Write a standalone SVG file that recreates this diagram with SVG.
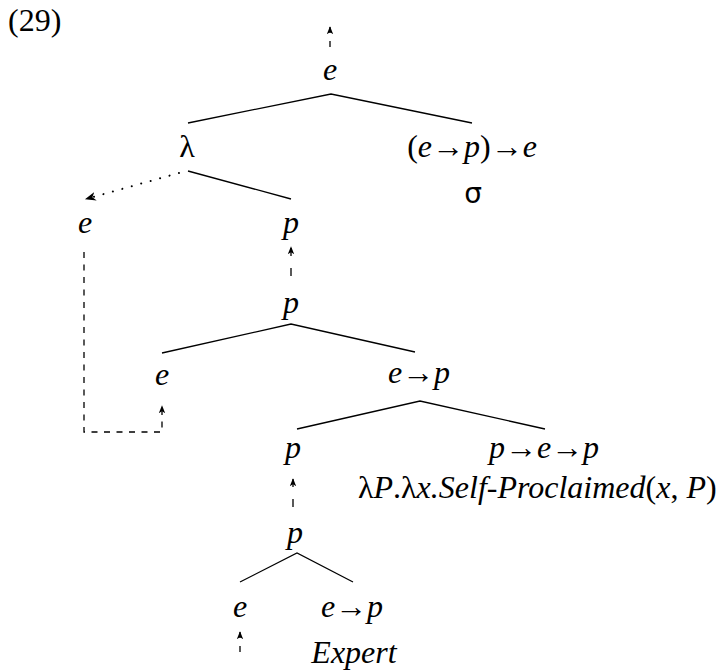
<svg xmlns="http://www.w3.org/2000/svg" width="722" height="670" viewBox="0 0 722 670">
<style>
text{font-family:'Liberation Serif','DejaVu Serif',serif;font-size:32px;fill:#000}
.i{font-style:italic}
.m{text-anchor:middle}
.br{stroke:#000;stroke-width:1.3;fill:none}
.da{stroke:#000;stroke-width:1.3;fill:none;stroke-dasharray:6,6.5}
.s1{stroke-dasharray:6,8}
.s2{stroke-dasharray:8,12}
.do{stroke:#000;stroke-width:2;fill:none;stroke-dasharray:0.1,9.7;stroke-linecap:round}
</style>
<defs>
<marker id="ah" viewBox="0 0 10 10" refX="9" refY="5" markerWidth="8" markerHeight="8" markerUnits="userSpaceOnUse" orient="auto">
<path d="M0,1 L10,5 L0,9 L2.5,5 Z" fill="#000"/>
</marker>
<marker id="ahb" viewBox="0 0 10 10" refX="9" refY="5" markerWidth="11" markerHeight="11" markerUnits="userSpaceOnUse" orient="auto">
<path d="M0,1 L10,5 L0,9 L3,5 Z" fill="#000"/>
</marker>
</defs>
<text x="8" y="31" font-family="Liberation Serif">(29)</text>
<g id="n-top"><text class="i m" x="330" y="80">e</text></g>
<g id="n-lambda"><text class="m" x="187" y="157">λ</text></g>
<g id="n-sigma"><text class="m" x="472" y="157"><tspan>(</tspan><tspan class="i">e</tspan><tspan>→</tspan><tspan class="i">p</tspan><tspan>)→</tspan><tspan class="i">e</tspan></text>
<text class="m" x="473" y="203" style="font-family:'DejaVu Sans',sans-serif;font-size:28px">σ</text></g>
<g id="n-e1"><text class="i m" x="85" y="233">e</text></g>
<g id="n-p1"><text class="i m" x="291" y="233">p</text></g>
<g id="n-p2"><text class="i m" x="291" y="313">p</text></g>
<g id="n-e2"><text class="i m" x="162" y="385">e</text></g>
<g id="n-ep1"><text class="m" x="419" y="383"><tspan class="i">e</tspan><tspan>→</tspan><tspan class="i">p</tspan></text></g>
<g id="n-p3"><text class="i m" x="293" y="458">p</text></g>
<g id="n-sp"><text class="m" x="544" y="458"><tspan class="i">p</tspan><tspan>→</tspan><tspan class="i">e</tspan><tspan>→</tspan><tspan class="i">p</tspan></text>
<text x="358" y="498"><tspan>λ</tspan><tspan class="i">P</tspan><tspan>.λ</tspan><tspan class="i">x.Self-Proclaimed</tspan><tspan>(</tspan><tspan class="i">x</tspan><tspan>, </tspan><tspan class="i">P</tspan><tspan>)</tspan></text></g>
<g id="n-p4"><text class="i m" x="295" y="543">p</text></g>
<g id="n-e3"><text class="i m" x="240" y="617">e</text></g>
<g id="n-expert"><text class="m" x="352" y="617"><tspan class="i">e</tspan><tspan>→</tspan><tspan class="i">p</tspan></text>
<text class="i m" x="354" y="663">Expert</text></g>
<g id="connectors">
<polyline class="br" points="188,123 331,94 472,123"/>
<polyline class="br" points="188,171 291,199"/>
<polyline class="br" points="162,353 291,324 415,352"/>
<polyline class="br" points="297,429 420,401 545,429"/>
<polyline class="br" points="240,582 297,553 353,582"/>
<line class="do" x1="179" y1="173" x2="86" y2="199" marker-end="url(#ahb)"/>
<line class="da s1" x1="330" y1="47" x2="330" y2="27" marker-end="url(#ah)"/>
<line class="da s2" x1="291" y1="276" x2="291" y2="247" marker-end="url(#ah)"/>
<polyline class="da" points="84,252 84,432 162,432 162,406" marker-end="url(#ah)"/>
<line class="da s2" x1="293" y1="507" x2="293" y2="479" marker-end="url(#ah)"/>
<line class="da s1" x1="240" y1="652" x2="240" y2="632" marker-end="url(#ah)"/>
</g>
</svg>
